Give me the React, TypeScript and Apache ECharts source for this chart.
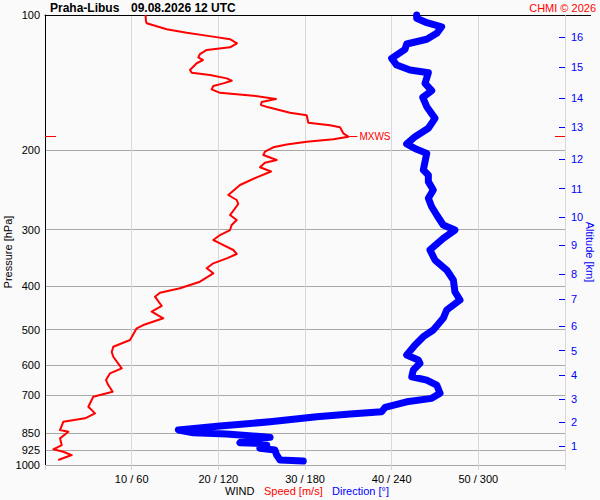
import React, { useEffect, useRef } from "react";
import * as echarts from "echarts";

// Pressure axis tick labels (hPa)
const pressureTicks = [100, 200, 300, 400, 500, 600, 700, 850, 925, 1000];
// Altitude axis (km) and the pressure (hPa) where each tick sits
const altitudeKm = [1, 2, 3, 4, 5, 6, 7, 8, 9, 10, 11, 12, 13, 14, 15, 16];
const altitudeP = [908.9, 802.7, 714.5, 631.8, 557.2, 491.2, 428.2, 376.3, 324.4, 281.6, 243.2, 209.2, 177.6, 152.9, 130.5, 112.1];
// Bottom axis ticks: speed (m/s) / direction (deg)
const speedTicks = [10, 20, 30, 40, 50];
const directionTicks = [60, 120, 180, 240, 300];

// Wind speed profile
const speedP = [100, 103.1, 104.3, 107.6, 109.5, 111.7, 113.2, 115.6, 118.0, 119.6,
  122.1, 124.2, 125.9, 128.0, 132.5, 134.4, 136.0, 138.3, 140.0, 141.9,
  143.8, 146.3, 148.9, 151.1, 153.7, 156.1, 158.5, 160.4, 164.9, 167.1,
  173.5, 175.8, 177.6, 183.2, 186.4, 188.9, 191.2, 194.0, 196.8, 201.3,
  204.7, 210.0, 212.9, 218.0, 222.7, 229.5, 238.7, 251.2, 257.7, 263.0,
  278.3, 285.5, 292.9, 300.5, 308.3, 316.2, 321.6, 332.8, 339.7, 347.3,
  356.3, 365.5, 375.0, 391.4, 404.9, 414.1, 422.7, 443.2, 456.4, 472.1,
  488.6, 496.9, 527.6, 545.9, 561.0, 574.6, 609.8, 625.6, 647.5, 664.3,
  687.5, 705.3, 742.3, 767.8, 787.7, 801.5, 836.2, 843.5, 872.5, 902.9,
  923.0, 934.4, 950.4, 974.8];
const speedMs = [11.6, 11.65, 11.73, 14.04, 16.35, 19.38, 21.35, 22.15, 21.35, 18.66,
  17.88, 17.69, 18.23, 17.5, 16.73, 16.93, 19.04, 20.97, 21.54, 20.57,
  19.42, 19.23, 20.19, 24.03, 26.65, 25.0, 24.92, 25.77, 28.27, 30.2,
  30.38, 32.88, 34.04, 34.42, 35.0, 33.27, 30.2, 27.89, 26.34, 25.38,
  25.19, 26.73, 25.38, 24.81, 26.08, 24.43, 22.5, 21.15, 22.12, 22.3,
  21.35, 22.12, 21.54, 21.35, 20.19, 19.42, 20.19, 21.73, 22.12, 20.97,
  19.42, 18.66, 19.42, 17.88, 15.58, 13.27, 12.69, 13.47, 12.31, 13.65,
  11.34, 10.58, 9.81, 7.88, 7.7, 7.88, 8.85, 7.5, 7.04, 7.3,
  7.81, 5.57, 5.0, 5.77, 4.62, 2.11, 1.73, 2.69, 1.73, 1.93,
  0.96, 2.11, 3.08, 1.53];

// Wind direction profile
const dirP = [100, 101.7, 104.0, 106.2, 109.8, 113.2, 116.0, 119.2, 124.8, 129.2,
  132.5, 134.4, 141.9, 147.3, 152.4, 159.9, 169.7, 178.5, 186.4, 193.5,
  198.8, 203.0, 221.0, 226.8, 234.6, 244.8, 255.5, 266.7, 278.3, 292.9,
  300.5, 313.5, 332.8, 350.4, 368.8, 388.1, 412.0, 430.0, 452.4, 472.1,
  501.2, 518.7, 541.3, 569.6, 584.3, 594.3, 615.1, 636.6, 647.5, 664.3,
  693.1, 711.1, 723.6, 744.6, 761.5, 770.5, 781.2, 801.5, 819.3, 836.2,
  847.9, 853.6, 865.5, 868.2, 880.3, 892.5, 895.3, 902.9, 918.3, 926.4,
  950.4, 974.8, 979.8];
const dirDeg = [257.3, 257.3, 264.3, 274.6, 271.2, 264.3, 250.4, 249.2, 240.0, 243.5,
  252.7, 265.4, 263.1, 267.7, 261.5, 264.3, 270.0, 265.4, 256.2, 250.4,
  257.3, 264.3, 261.9, 265.4, 265.4, 268.8, 265.4, 267.7, 271.2, 275.7,
  283.8, 275.7, 266.5, 270.0, 278.1, 282.7, 283.8, 287.3, 278.1, 275.7,
  268.8, 261.9, 256.2, 250.4, 258.4, 259.6, 255.0, 253.9, 264.3, 271.2,
  273.5, 267.7, 250.4, 235.4, 233.1, 211.2, 188.1, 155.8, 121.2, 92.3,
  102.7, 125.8, 151.1, 155.8, 137.3, 135.0, 148.8, 153.5, 148.8, 159.2,
  160.4, 162.7, 178.8];

// Maximum wind
const mxwsP = 186.4;
const mxwsSpeed = 35.0;

const FONT = '"Liberation Sans", Arial, Helvetica, sans-serif';
const RED = "#ff0000";
const BLUE = "#0000ff";

const lg = (p: number) => Math.log10(p);

function nearestIndex(values: number[], v: number) {
  let best = 0;
  let bd = Infinity;
  values.forEach((x, i) => {
    const d = Math.abs(x - v);
    if (d < bd) { bd = d; best = i; }
  });
  return bd < 1e-4 ? best : -1;
}

export default function App() {
  const ref = useRef<HTMLDivElement>(null);

  useEffect(() => {
    if (!ref.current) return;
    const chart = echarts.init(ref.current, null, { renderer: "svg" });
    const pLog = pressureTicks.map(lg);
    const aLog = altitudeP.map(lg);
    const mLog = lg(mxwsP);

    chart.setOption({
      animation: false,
      backgroundColor: "#fafafa",
      textStyle: { fontFamily: FONT },
      grid: { left: 45, right: 35, top: 15, bottom: 35, containLabel: false },
      xAxis: [
        {
          type: "value", min: 0, max: 60, interval: 10, position: "bottom",
          axisLine: { show: false, onZero: false },
          axisTick: { show: true, length: 5, lineStyle: { color: "#d4d4d4" } },
          axisLabel: {
            customValues: speedTicks,
            formatter: (v: number) => {
              const i = speedTicks.indexOf(v);
              return i >= 0 ? `${speedTicks[i]} / ${directionTicks[i]}` : "";
            },
            color: "#000", fontSize: 11, fontFamily: FONT, margin: 8,
          },
          splitLine: { show: true, lineStyle: { color: "#d8d8d8", width: 1 } },
        },
        {
          type: "value", min: 0, max: 360, position: "top",
          axisLine: { show: true, onZero: false, lineStyle: { color: "#000", width: 1 } },
          axisTick: { show: false }, axisLabel: { show: false }, splitLine: { show: false },
        },
      ],
      yAxis: [
        {
          type: "value", min: 2, max: 3, inverse: true, position: "left",
          axisLine: { show: true, onZero: false, lineStyle: { color: "#000", width: 1 } },
          axisTick: { show: false, customValues: pLog },
          axisLabel: {
            customValues: pLog,
            formatter: (v: number) => {
              const i = nearestIndex(pLog, v);
              return i >= 0 ? String(pressureTicks[i]) : "";
            },
            color: "#000", fontSize: 11, fontFamily: FONT, margin: 5,
          },
          splitLine: { show: true, lineStyle: { color: "#a8a8a8", width: 1 } },
        },
        {
          type: "value", min: 2, max: 3, inverse: true, position: "right",
          axisLine: { show: false, onZero: false },
          axisTick: { show: true, inside: true, length: 6, customValues: aLog, lineStyle: { color: BLUE, width: 1 } },
          axisLabel: {
            customValues: aLog,
            formatter: (v: number) => {
              const i = nearestIndex(aLog, v);
              return i >= 0 ? String(altitudeKm[i]) : "";
            },
            color: BLUE, fontSize: 11, fontFamily: FONT, margin: 6,
          },
          splitLine: { show: false },
        },
      ],
      graphic: [
        { type: "text", x: 50, y: 8, style: { text: "Praha-Libus", fill: "#000", font: `bold 12px ${FONT}`, align: "left", verticalAlign: "middle" } },
        { type: "text", x: 131, y: 8, style: { text: "09.08.2026 12 UTC", fill: "#000", font: `bold 12px ${FONT}`, align: "left", verticalAlign: "middle" } },
        { type: "text", x: 596, y: 8, style: { text: "CHMI © 2026", fill: RED, font: `11px ${FONT}`, align: "right", verticalAlign: "middle" } },
        { type: "text", x: 7.5, y: 252, rotation: Math.PI / 2, style: { text: "Pressure [hPa]", fill: "#000", font: `11px ${FONT}`, align: "center", verticalAlign: "middle" } },
        { type: "text", x: 589.5, y: 252, rotation: -Math.PI / 2, style: { text: "Altitude [km]", fill: BLUE, font: `11px ${FONT}`, align: "center", verticalAlign: "middle" } },
        { type: "text", x: 225, y: 491, style: { text: "WIND", fill: "#000", font: `11px ${FONT}`, align: "left", verticalAlign: "middle" } },
        { type: "text", x: 264, y: 491, style: { text: "Speed [m/s]", fill: RED, font: `11px ${FONT}`, align: "left", verticalAlign: "middle" } },
        { type: "text", x: 332, y: 491, style: { text: "Direction [°]", fill: BLUE, font: `11px ${FONT}`, align: "left", verticalAlign: "middle" } },
        { type: "line", shape: { x1: 565, y1: 15.5, x2: 591, y2: 15.5 }, style: { stroke: "#000", lineWidth: 1 } },
      ],
      series: [
        {
          name: "Direction", type: "line", xAxisIndex: 1, yAxisIndex: 0,
          data: dirDeg.map((d, i) => [d, lg(dirP[i])]),
          showSymbol: false, symbol: "none", clip: false, z: 2,
          lineStyle: { color: BLUE, width: 7, cap: "round", join: "round" },
        },
        {
          name: "Speed", type: "line", xAxisIndex: 0, yAxisIndex: 0,
          data: speedMs.map((s, i) => [s, lg(speedP[i])]),
          showSymbol: false, symbol: "none", z: 3,
          lineStyle: { color: RED, width: 2, join: "round" },
          markLine: {
            silent: true, symbol: ["none", "none"], animation: false,
            lineStyle: { color: RED, width: 1, type: "solid" },
            label: { show: false },
            data: [
              [
                { coord: [mxwsSpeed + 0.1, mLog], label: { show: true, position: "end", formatter: "MXWS", color: RED, fontSize: 10, fontFamily: FONT, distance: 2 } },
                { coord: [mxwsSpeed + 1.05, mLog] },
              ],
              [{ coord: [0, mLog] }, { coord: [1.27, mLog] }],
              [{ coord: [58.85, mLog] }, { coord: [60, mLog] }],
            ],
          },
        },
      ],
    });
    return () => chart.dispose();
  }, []);

  return (
    <div
      ref={ref}
      style={{ position: "fixed", left: 0, top: 0, width: 600, height: 500 }}
    />
  );
}
